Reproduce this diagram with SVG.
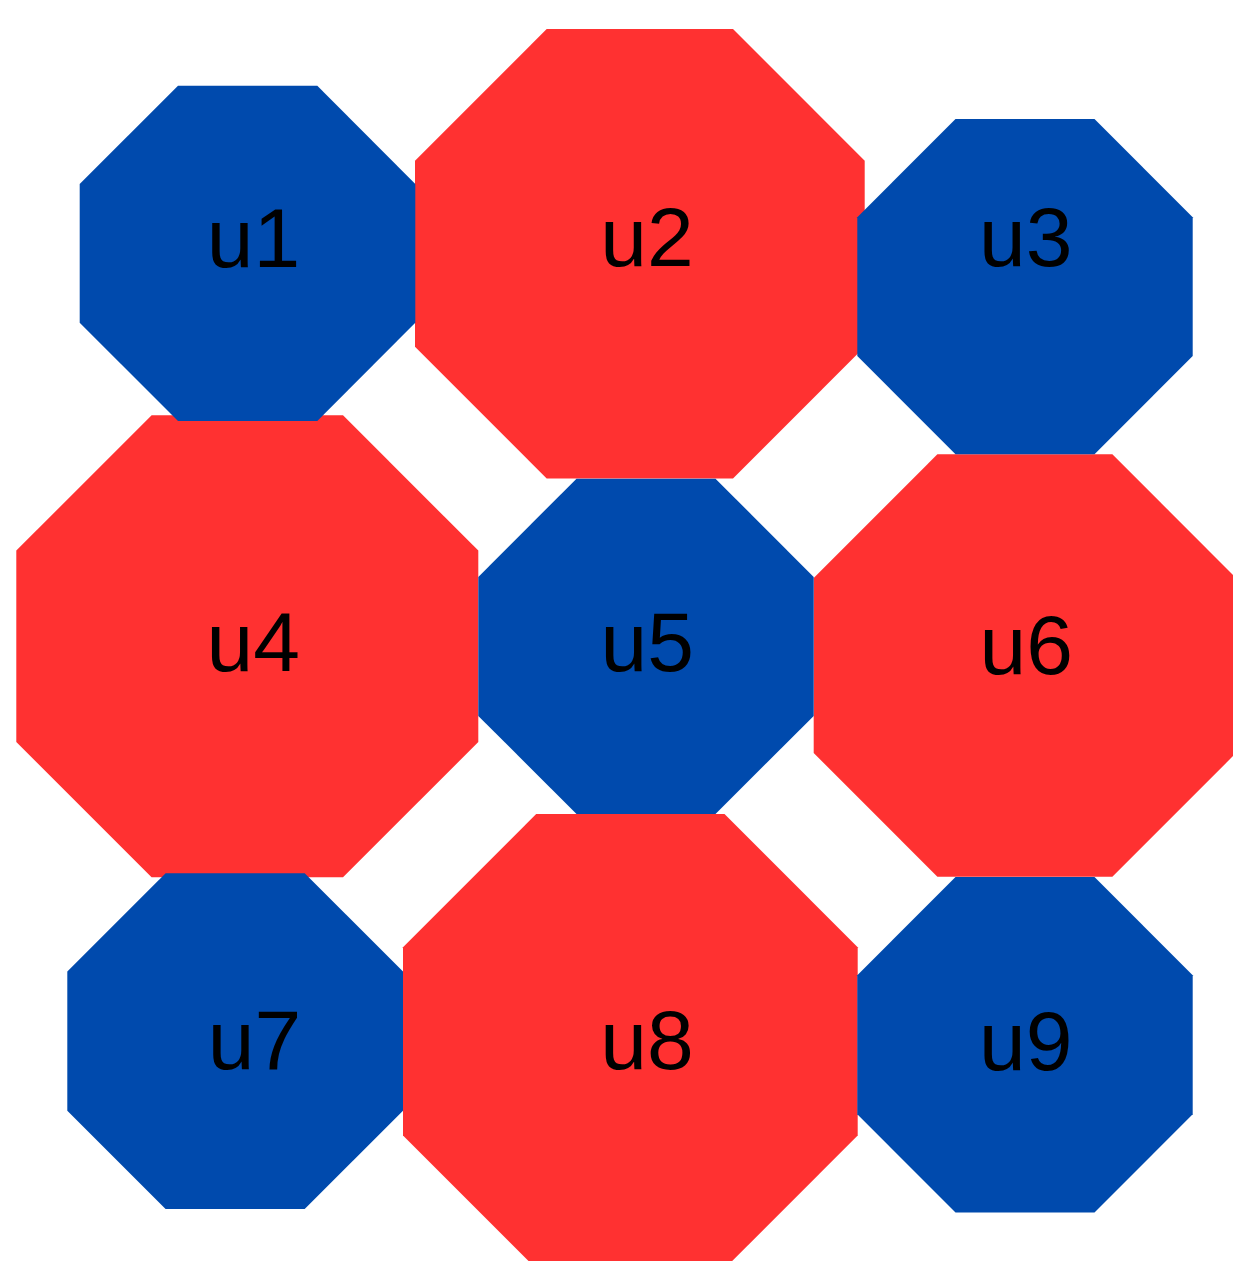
<svg xmlns="http://www.w3.org/2000/svg" width="1233" height="1261" viewBox="0 0 1233 1261">
<style>
.red{fill:#FF3131}
.blue{fill:#004AAD}
.lbl{font-family:"Liberation Sans",Arial,sans-serif;font-size:84px;fill:#000;text-anchor:middle}
</style>
<rect width="1233" height="1261" fill="#fff"/>
<g id="connectors"/>
<g id="u2"><polygon class="red" points="546.7,29 733,29 864.7,160.7 864.7,346.7 733,478.5 546.7,478.5 415,346.7 415,160.7"/><text class="lbl" x="647" y="266">u2</text></g>
<g id="u4"><polygon class="red" points="151.6,415.3 343,415.3 478.3,550.6 478.3,742 343,877.3 151.6,877.3 16.3,742 16.3,550.6"/><text class="lbl" x="253.3" y="671">u4</text></g>
<g id="u6"><polygon class="red" points="937.4,454.3 1112.4,454.3 1236.1,578 1236.1,753 1112.4,876.7 937.4,876.7 813.7,753 813.7,578"/><text class="lbl" x="1026.3" y="674">u6</text></g>
<g id="u8"><polygon class="red" points="536.2,814 724.5,814 857.7,947.2 857.7,1135.5 724.5,1268.7 536.2,1268.7 403,1135.5 403,947.2"/><text class="lbl" x="647" y="1069.3">u8</text></g>
<g id="u1"><polygon class="blue" points="178,85.7 317.3,85.7 415.3,184 415.3,322.7 317.3,421 178,421 79.7,322.7 79.7,184"/><text class="lbl" x="253.5" y="266.7">u1</text></g>
<g id="u3"><polygon class="blue" points="955.5,119 1094.5,119 1192.7,217.2 1192.7,356 1094.5,454.3 955.5,454.3 857.3,356 857.3,217.2"/><text class="lbl" x="1025.8" y="265.7">u3</text></g>
<g id="u5"><polygon class="blue" points="576.5,478.7 715.5,478.7 813.7,576.9 813.7,715.9 715.5,814 576.5,814 478.3,715.9 478.3,576.9"/><text class="lbl" x="647.2" y="671">u5</text></g>
<g id="u7"><polygon class="blue" points="165.6,873.3 304.7,873.3 403,971.6 403,1110.7 304.7,1209 165.6,1209 67.3,1110.7 67.3,971.6"/><text class="lbl" x="254.5" y="1069.3">u7</text></g>
<g id="u9"><polygon class="blue" points="955.5,877 1094.5,877 1192.7,975.2 1192.7,1114.2 1094.5,1212.4 955.5,1212.4 857.3,1114.2 857.3,975.2"/><text class="lbl" x="1025.8" y="1070">u9</text></g>
</svg>
